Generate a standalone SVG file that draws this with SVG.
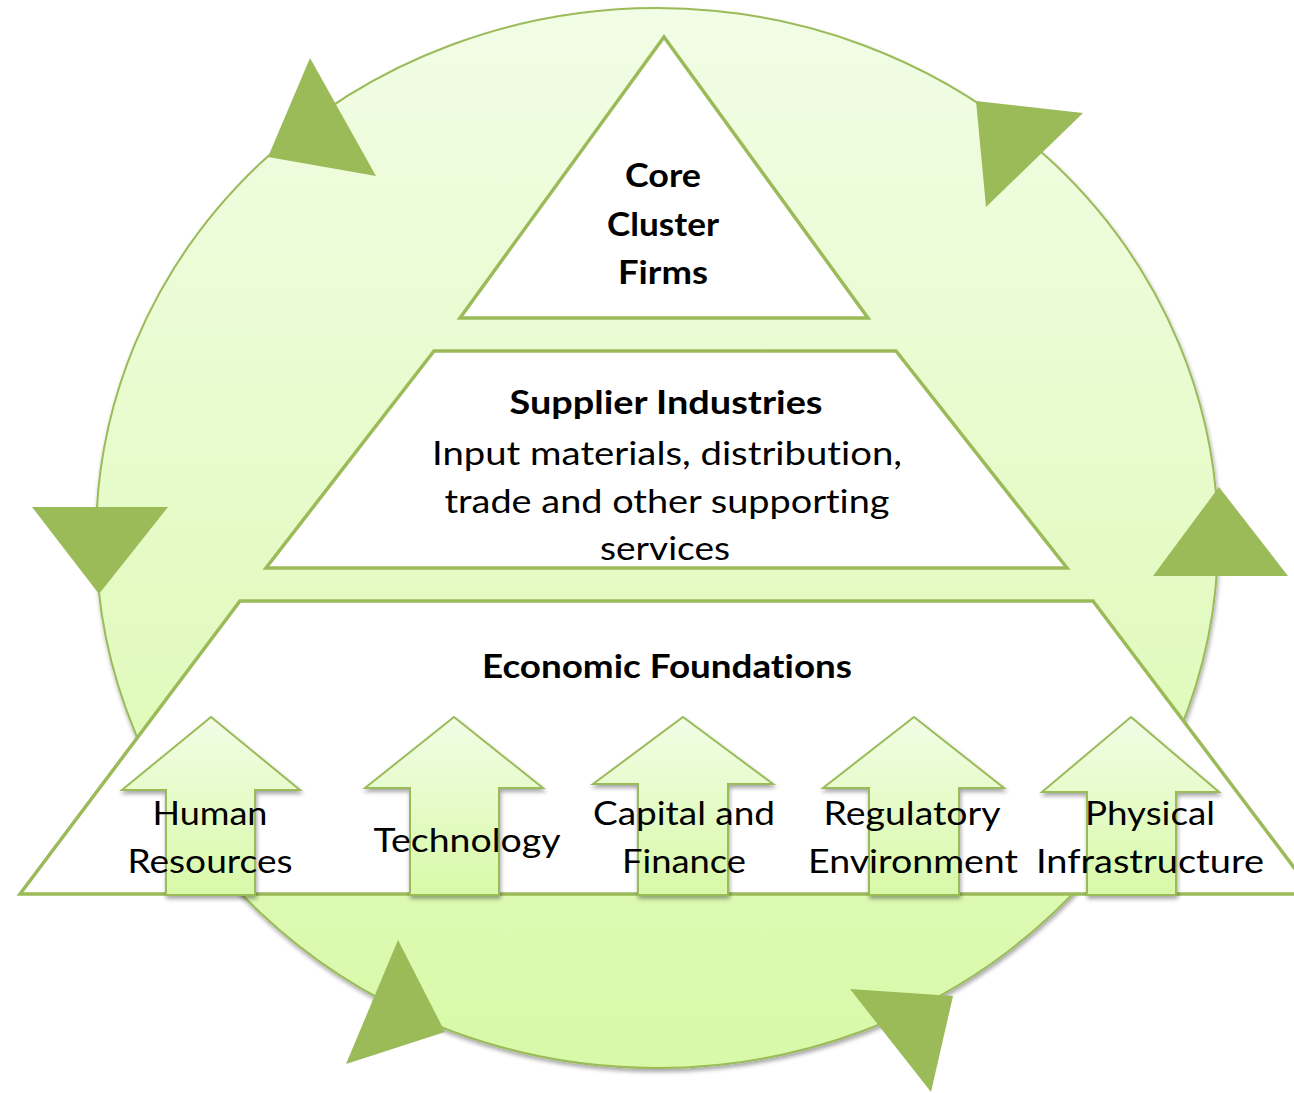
<svg xmlns="http://www.w3.org/2000/svg" width="1294" height="1093" viewBox="0 0 1294 1093">
<defs>
  <linearGradient id="gEll" x1="0" y1="0" x2="0" y2="1">
    <stop offset="0" stop-color="#f2fde6"/>
    <stop offset="1" stop-color="#d8f9a8"/>
  </linearGradient>
  <linearGradient id="gArr" x1="0" y1="0" x2="0" y2="1">
    <stop offset="0" stop-color="#f2fde6"/>
    <stop offset="1" stop-color="#d8f9a8"/>
  </linearGradient>
  <filter id="sh" x="-10%" y="-10%" width="120%" height="120%">
    <feGaussianBlur in="SourceAlpha" stdDeviation="2"/>
    <feOffset dx="1" dy="3" result="b"/>
    <feComponentTransfer><feFuncA type="linear" slope="0.35"/></feComponentTransfer>
    <feMerge><feMergeNode/><feMergeNode in="SourceGraphic"/></feMerge>
  </filter>
  <style>
    .ell{fill:url(#gEll);stroke:#9bbb59;stroke-width:2}
    .tri{fill:#ffffff;stroke:#9bbb59;stroke-width:3.5;stroke-linejoin:miter}
    .ah{fill:#9bbb59;stroke:none}
    .blk{fill:url(#gArr);stroke:#9bbb59;stroke-width:2}
    text{font-family:Lato,"Liberation Sans",sans-serif;fill:#000;text-anchor:middle;font-variant-ligatures:none;font-feature-settings:"liga" 0,"clig" 0,"dlig" 0,"calt" 0,"rlig" 0}
    .b{font-weight:bold;font-size:32px}
    .n{font-size:32px}
  </style>
</defs>
<rect width="1294" height="1093" fill="#ffffff"/>
<g id="cycle">
  <ellipse class="ell" cx="657" cy="538" rx="561" ry="530" filter="url(#sh)"/>
</g>
<g id="connectors">
  <polygon class="ah" points="310,58 376,176 268,157"/>
  <polygon class="ah" points="976,101 1083,113 986,207"/>
  <polygon class="ah" points="1219,487 1288,576 1153,576"/>
  <polygon class="ah" points="850,989 953,996 931,1092"/>
  <polygon class="ah" points="398,940 445,1032 346,1064"/>
  <polygon class="ah" points="32,507 168,507 99,594"/>
</g>
<g id="core">
  <polygon class="tri" points="664,37 868,318 460,318"/>
  <text class="b" x="663" y="187" textLength="76" lengthAdjust="spacingAndGlyphs">Core</text>
  <text class="b" x="663" y="236" textLength="112" lengthAdjust="spacingAndGlyphs">Cluster</text>
  <text class="b" x="663" y="284" textLength="90" lengthAdjust="spacingAndGlyphs">Firms</text>
</g>
<g id="supplier">
  <polygon class="tri" points="434,351 896,351 1067,568 266,568"/>
  <text class="b" x="666" y="414" textLength="313" lengthAdjust="spacingAndGlyphs">Supplier Industries</text>
  <text class="n" x="667" y="465" textLength="470" lengthAdjust="spacingAndGlyphs">Input materials, distribution,</text>
  <text class="n" x="667" y="513" textLength="445" lengthAdjust="spacingAndGlyphs">trade and other supporting</text>
  <text class="n" x="665" y="560" textLength="130" lengthAdjust="spacingAndGlyphs">services</text>
</g>
<g id="foundations">
  <polygon class="tri" points="240,601 1093,601 1314,894 20,894"/>
  <text class="b" x="667" y="678" textLength="370" lengthAdjust="spacingAndGlyphs">Economic Foundations</text>
</g>
<g id="human-resources">
  <path class="blk" filter="url(#sh)" d="M211,717 L300,790 L255,790 L255,895 L166,895 L166,790 L122,790 Z"/>
  <text class="n" x="210" y="825" textLength="115" lengthAdjust="spacingAndGlyphs">Human</text>
  <text class="n" x="210" y="873" textLength="165" lengthAdjust="spacingAndGlyphs">Resources</text>
</g>
<g id="technology">
  <path class="blk" filter="url(#sh)" d="M454,717 L543,788 L499,788 L499,895 L410,895 L410,788 L365,788 Z"/>
  <text class="n" x="467" y="852" textLength="187" lengthAdjust="spacingAndGlyphs">Technology</text>
</g>
<g id="capital-finance">
  <path class="blk" filter="url(#sh)" d="M683,717 L773,784 L728,784 L728,895 L638,895 L638,784 L593,784 Z"/>
  <text class="n" x="684" y="825" textLength="182" lengthAdjust="spacingAndGlyphs">Capital and</text>
  <text class="n" x="684" y="873" textLength="124" lengthAdjust="spacingAndGlyphs">Finance</text>
</g>
<g id="regulatory-environment">
  <path class="blk" filter="url(#sh)" d="M914,717 L1004,788 L959,788 L959,895 L869,895 L869,788 L823,788 Z"/>
  <text class="n" x="912" y="825" textLength="177" lengthAdjust="spacingAndGlyphs">Regulatory</text>
  <text class="n" x="913" y="873" textLength="210" lengthAdjust="spacingAndGlyphs">Environment</text>
</g>
<g id="physical-infrastructure">
  <path class="blk" filter="url(#sh)" d="M1131,717 L1219,792 L1176,792 L1176,895 L1087,895 L1087,792 L1042,792 Z"/>
  <text class="n" x="1150" y="825" textLength="130" lengthAdjust="spacingAndGlyphs">Physical</text>
  <text class="n" x="1150" y="873" textLength="228" lengthAdjust="spacingAndGlyphs">Infrastructure</text>
</g>
</svg>
